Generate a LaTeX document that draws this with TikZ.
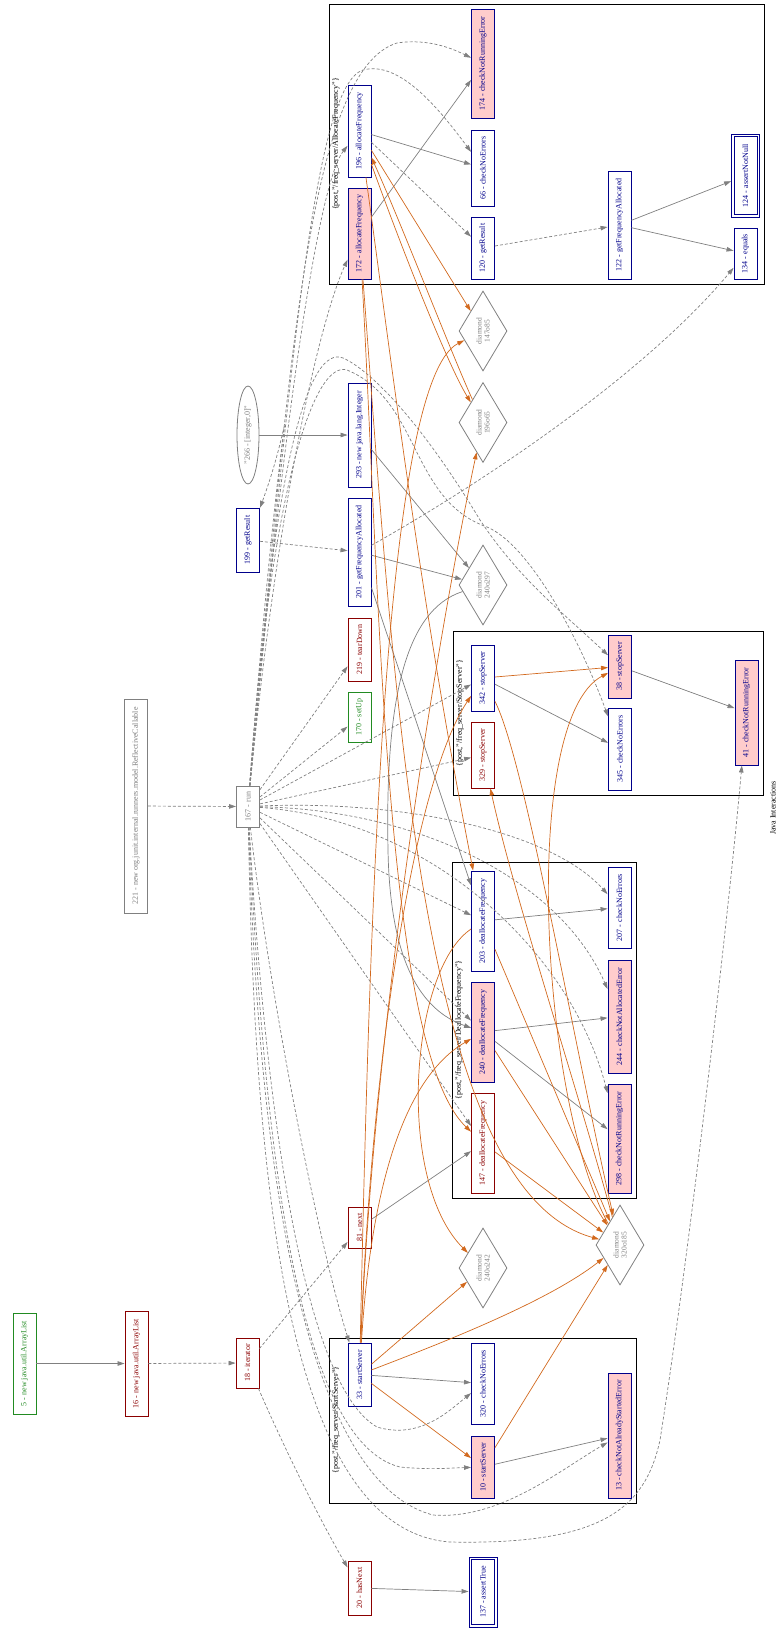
\documentclass[tikz,border=0pt]{standalone}
\usepackage{fontspec}
\setmainfont{Liberation Serif}
\usetikzlibrary{arrows.meta,shapes.geometric}
\definecolor{navy}{RGB}{0,0,139}
\definecolor{dred}{RGB}{139,0,0}
\definecolor{fgreen}{RGB}{34,139,34}
\definecolor{pinkf}{RGB}{255,204,204}
\definecolor{eg}{RGB}{128,128,128}
\definecolor{choc}{RGB}{210,105,30}
\begin{document}
\begin{tikzpicture}[x=1pt,y=-1pt,
 font=\fontsize{8}{9}\selectfont,
 box/.style={draw, rectangle, rotate=90, minimum height=23pt, inner sep=1pt, line width=0.9pt, fill=white},
 bluebox/.style={box, draw=navy, text=navy},
 pinkbox/.style={box, draw=navy, text=navy, fill=pinkf},
 redbox/.style={box, draw=dred, text=dred},
 greenbox/.style={box, draw=fgreen, text=fgreen},
 graybox/.style={box, draw=eg, text=eg},
 dblout/.style={box, draw=navy, minimum height=28pt},
 dia/.style={diamond, draw=eg, text=eg, rotate=90, minimum width=80pt, minimum height=48pt, inner sep=0pt, align=center, line width=0.8pt, font=\fontsize{7.5}{8}\selectfont},
 clus/.style={draw=black, line width=0.9pt},
 clab/.style={rotate=90, text=black},
 tip/.style={-{Triangle[length=7pt,width=4.5pt]}},
 flow/.style={draw=eg, line width=0.7pt, tip},
 call/.style={flow, dash pattern=on 3pt off 2pt},
 data/.style={draw=choc, line width=0.7pt, tip},
]
\useasboundingbox (0,0) rectangle (780,1630);
% clusters
\draw[clus] (329,4) rectangle (764,284);
\draw[clus] (453,631) rectangle (763,795);
\draw[clus] (452,862) rectangle (636,1198);
\draw[clus] (329,1338) rectangle (636,1503);
\node[clab] (l1) at (336,144) {\{post,"/freq\_server/AllocateFrequency"\}};
\node[clab] (l2) at (460,713) {\{post,"/freq\_server/StopServer"\}};
\node[clab] (l3) at (459,1030) {\{post,"/freq\_server/DeallocateFrequency"\}};
\node[clab] (l4) at (336,1420) {\{post,"/freq\_server/StartServer"\}};
\node[rotate=90] (title) at (773,808) {Java Interactions};
% nodes
\node[greenbox, minimum width=101pt] (n5) at (24.5,1363.5) {5 - new java.util.ArrayList};
\node[redbox, minimum width=105pt] (n16) at (136.5,1363.5) {16 - new java.util.ArrayList};
\node[redbox, minimum width=50pt] (n18) at (247.5,1363) {18 - iterator};
\node[graybox, minimum width=214pt] (n221) at (136,806) {221 - new org.junit.internal.runners.model.ReflectiveCallable};
\node[graybox, minimum width=41pt] (n167) at (248,806.5) {167 - run};
\node[bluebox, minimum width=64pt] (n199) at (248,540) {199 - getResult};
\node[ellipse, draw=eg, text=eg, rotate=90, minimum width=98pt, minimum height=22pt, inner sep=0pt, line width=0.8pt] (n266) at (248,435) {"266 - [integer,0]"};
\node[bluebox, minimum width=104pt] (n293) at (359.5,435) {293 - new java.lang.Integer};
\node[bluebox, minimum width=108pt] (n201) at (359.5,552) {201 - getFrequencyAllocated};
\node[redbox, minimum width=63pt] (n219) at (359.5,649.5) {219 - tearDown};
\node[greenbox, minimum width=50pt] (n170) at (359.5,717) {170 - setUp};
\node[redbox, minimum width=41pt] (n81) at (359.5,1227.5) {81 - next};
\node[redbox, minimum width=54pt] (n20) at (359.5,1588) {20 - hasNext};
\node[dblout, minimum width=70pt] (n137) at (483,1592) {};
\node[bluebox, minimum width=65pt] (n137i) at (483,1592) {137 - assertTrue};
\node[bluebox, minimum width=63pt] (n33) at (359.5,1374.5) {33 - startServer};
\node[bluebox, minimum width=81pt] (n320) at (483,1383.5) {320 - checkNoErrors};
\node[pinkbox, minimum width=62pt] (n10) at (483,1467) {10 - startServer};
\node[pinkbox, minimum width=125pt] (n13) at (619.5,1435.5) {13 - checkNotAlreadyStartedError};
\node[dia] (d240o242) at (483,1268) {diamond\\240o242};
\node[dia] (d320o185) at (620,1245) {diamond\\320o185};
\node[redbox, minimum width=100pt] (n147) at (483,1143) {147 - deallocateFrequency};
\node[pinkbox, minimum width=100pt] (n240) at (483,1032) {240 - deallocateFrequency};
\node[bluebox, minimum width=100pt] (n203) at (483,921) {203 - deallocateFrequency};
\node[bluebox, minimum width=81pt] (n207) at (619.5,907.5) {207 - checkNoErrors};
\node[pinkbox, minimum width=113pt] (n244) at (619.5,1016.5) {244 - checkNotAllocatedError};
\node[pinkbox, minimum width=109pt] (n298) at (619.5,1138.5) {298 - checkNotRunningError};
\node[bluebox, minimum width=66pt] (n342) at (483,678) {342 - stopServer};
\node[redbox, minimum width=66pt] (n329) at (483,755) {329 - stopServer};
\node[pinkbox, minimum width=63pt] (n38) at (620,666.5) {38 - stopServer};
\node[bluebox, minimum width=82pt] (n345) at (620,749) {345 - checkNoErrors};
\node[pinkbox, minimum width=105pt] (n41) at (746.5,712.5) {41 - checkNotRunningError};
\node[dia] (d147o85) at (483,331) {diamond\\147o85};
\node[dia] (d196o65) at (483,422.5) {diamond\\196o65};
\node[dia] (d240o297) at (483,585) {diamond\\240o297};
\node[bluebox, minimum width=92pt] (n196) at (359.5,131) {196 - allocateFrequency};
\node[pinkbox, minimum width=91pt] (n172) at (359.5,233.5) {172 - allocateFrequency};
\node[pinkbox, minimum width=109pt] (n174) at (483,63.5) {174 - checkNotRunningError};
\node[bluebox, minimum width=76pt] (n66) at (483,168) {66 - checkNoErrors};
\node[bluebox, minimum width=62pt] (n120) at (483,248) {120 - getResult};
\node[bluebox, minimum width=108pt] (n122) at (619.5,225) {122 - getFrequencyAllocated};
\node[dblout, minimum width=83pt] (n124) at (745.5,175.5) {};
\node[bluebox, minimum width=78pt] (n124i) at (745.5,175.5) {124 - assertNotNull};
\node[bluebox, minimum width=51pt] (n134) at (745.5,253.5) {134 - equals};
% gray flow edges
\draw[flow] (n5) -- (n16);
\draw[call] (n16) -- (n18);
\draw[call] (n221) -- (n167);
\draw[call] (n18) -- (n81);
\draw[call] (n18) .. controls (285,1450) and (320,1520) .. (n20);
\draw[flow] (n20) -- (n137);
\draw[flow] (n81) -- (n147);
\draw[flow] (n266) -- (n293);
\draw[flow] (n293) -- (d240o297);
\draw[flow] (n201) -- (d240o297);
\draw[flow] (n201) -- (n203);
\draw[flow] (d240o297) .. controls (405,610) and (385,700) .. (388,850) .. controls (390,960) and (420,1010) .. (n240);
\draw[call] (n199) -- (n201);
\draw[call] (n201) .. controls (470,490) and (640,380) .. (n134);
\draw[flow] (n196) -- (n66);
\draw[call] (n196) -- (n120);
\draw[flow] (n172) -- (n174);
\draw[call] (n120) -- (n122);
\draw[flow] (n122) -- (n124);
\draw[flow] (n122) -- (n134);
\draw[flow] (n342) -- (n345);
\draw[flow] (n38) -- (n41);
\draw[flow] (n203) -- (n207);
\draw[flow] (n240) -- (n244);
\draw[flow] (n240) -- (n298);
\draw[flow] (n33) -- (n320);
\draw[flow] (n10) -- (n13);
% calls from run
\draw[call] (n167) .. controls (290,350) and (310,70) .. (397,43) .. controls (430,38) and (455,50) .. (n174);
\draw[call] (n167) .. controls (292,350) and (315,85) .. (363,70) .. controls (400,60) and (440,110) .. (n66);
\draw[call] (n167) .. controls (285,400) and (320,180) .. (n196);
\draw[call] (n167) .. controls (278,500) and (320,320) .. (n172);
\draw[call] (n167) .. controls (285,330) and (300,400) .. (n199);
\draw[call] (n167) .. controls (275,450) and (310,345) .. (343,358) .. controls (370,370) and (420,420) .. (480,520) .. controls (520,580) and (560,610) .. (n38);
\draw[call] (n167) .. controls (272,480) and (315,360) .. (347,370) .. controls (420,400) and (410,500) .. (487,527) .. controls (530,545) and (580,640) .. (n345);
\draw[call] (n167) -- (n219);
\draw[call] (n167) -- (n170);
\draw[call] (n167) -- (n342);
\draw[call] (n167) -- (n329);
\draw[call] (n167) .. controls (400,800) and (550,830) .. (n207);
\draw[call] (n167) .. controls (420,810) and (560,880) .. (n244);
\draw[call] (n167) .. controls (430,820) and (570,950) .. (n298);
\draw[call] (n167) -- (n203);
\draw[call] (n167) -- (n240);
\draw[call] (n167) -- (n147);
\draw[call] (n167) .. controls (270,1000) and (320,1250) .. (n33);
\draw[call] (n167) .. controls (262,1050) and (295,1380) .. (377,1427) .. controls (420,1440) and (450,1410) .. (n320);
\draw[call] (n167) .. controls (262,1100) and (290,1440) .. (400,1467) .. controls (430,1470) and (450,1468) .. (n10);
\draw[call] (n167) .. controls (258,1150) and (300,1480) .. (433,1515) .. controls (500,1520) and (560,1470) .. (n13);
\draw[call] (n167) .. controls (255,1200) and (290,1530) .. (450,1542) .. controls (600,1545) and (645,1510) .. (660,1440) .. controls (690,1250) and (730,900) .. (n41);
% data edges
\draw[data] (n196) -- (d147o85);
\draw[data] (n196) .. controls (395,230) and (445,360) .. (d196o65);
\draw[data] (d196o65) .. controls (452,355) and (402,225) .. (n196);
\draw[data] (n196) .. controls (390,350) and (420,600) .. (n203);
\draw[data] (n172) .. controls (380,600) and (385,1050) .. (n147);
\draw[data] (n172) .. controls (395,700) and (420,1190) .. (d320o185);
\draw[data] (n33) .. controls (370,900) and (385,380) .. (d147o85);
\draw[data] (n33) .. controls (375,1000) and (445,600) .. (d196o65);
\draw[data] (n33) .. controls (372,1050) and (415,780) .. (n342);
\draw[data] (n33) .. controls (370,1200) and (400,1080) .. (n240);
\draw[data] (n33) -- (d240o242);
\draw[data] (n33) .. controls (450,1340) and (550,1300) .. (d320o185);
\draw[data] (n33) -- (n10);
\draw[data] (n10) -- (d320o185);
\draw[data] (n147) -- (d320o185);
\draw[data] (n240) -- (d320o185);
\draw[data] (n203) -- (d320o185);
\draw[data] (n203) .. controls (410,970) and (395,1180) .. (d240o242);
\draw[data] (n342) -- (n38);
\draw[data] (n342) .. controls (525,760) and (575,1050) .. (d320o185);
\draw[data] (d320o185) .. controls (575,1080) and (515,900) .. (n329);
\draw[data] (d320o185) .. controls (540,1100) and (520,720) .. (n38);
\end{tikzpicture}
\end{document}
